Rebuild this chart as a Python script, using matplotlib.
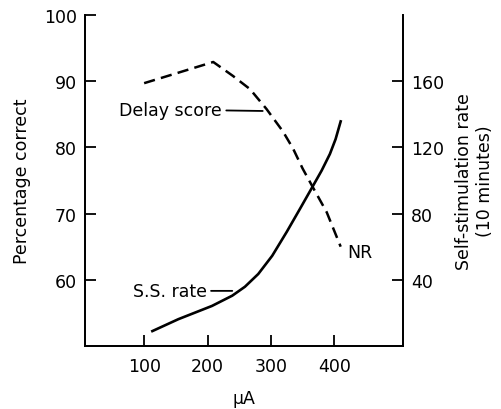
import matplotlib
matplotlib.use("Agg")
import matplotlib.pyplot as plt

# Data
dose_delay = [100, 209, 240, 267, 293, 319, 335, 350, 366, 388, 410]
delay_score = [89.7, 92.9, 90.8, 88.8, 85.8, 82.4, 79.8, 76.8, 74.0, 70.2, 65.0]

dose_ss = [113, 154, 207, 239, 259, 280, 302, 325, 346, 366, 380, 393, 402, 410]
ss_rate = [9.0, 16.2, 24.2, 30.4, 35.8, 43.5, 54.5, 69.0, 83.0, 96.5, 106.0, 116.0, 125.0, 135.7]

x_ticks = [100, 200, 300, 400]
left_ticks = [60, 70, 80, 90, 100]
right_ticks = [40, 80, 120, 160]

plt.rcParams['font.family'] = ['DejaVu Sans']
fs = 12.5

fig = plt.figure(figsize=(5.01, 4.10), dpi=100)
ax = fig.add_axes([0.170, 0.1537, 0.634, 0.8073])
ax2 = ax.twinx()

ax.plot(dose_delay, delay_score, color='black', lw=1.8, dashes=(4.5, 2.5),
        solid_joinstyle='round')
ax2.plot(dose_ss, ss_rate, color='black', lw=1.9, solid_joinstyle='round')

ax.set_xlim(7, 508)
ax.set_ylim(50, 100)
ax2.set_ylim(0, 200)

ax.set_xticks(x_ticks)
ax.set_yticks(left_ticks)
ax2.set_yticks(right_ticks)

for a in (ax, ax2):
    a.spines['top'].set_visible(False)
    for s in a.spines.values():
        s.set_linewidth(1.3)
ax.tick_params(axis='both', direction='in', length=8, width=1.3, labelsize=fs, pad=6)
ax2.tick_params(axis='y', direction='in', length=8, width=1.3, labelsize=fs, pad=6)
ax.tick_params(axis='x', pad=8)

ax.set_xlabel('μA', fontsize=fs, labelpad=10)
ax.set_ylabel('Percentage correct', fontsize=fs, labelpad=9)
ax2.set_ylabel('Self-stimulation rate\n(10 minutes)', fontsize=fs, labelpad=8,
               linespacing=1.2)

ax.annotate('Delay score', xy=(287, 85.5), xytext=(223, 85.7),
            fontsize=fs, ha='right', va='center',
            arrowprops=dict(arrowstyle='-', lw=1.3, color='black',
                            shrinkA=1, shrinkB=0))
ax2.annotate('S.S. rate', xy=(239, 33.3), xytext=(199, 33.3),
             fontsize=fs, ha='right', va='center',
             arrowprops=dict(arrowstyle='-', lw=1.3, color='black',
                             shrinkA=1, shrinkB=0))
ax.text(420, 64.2, 'NR', fontsize=fs, ha='left', va='center')

fig.savefig('out.png', dpi=100)
